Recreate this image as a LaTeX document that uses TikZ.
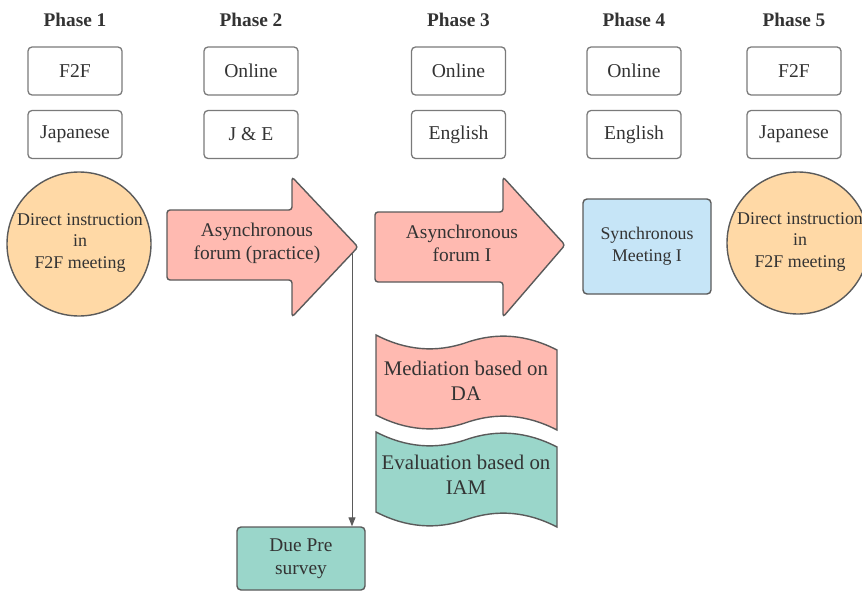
\documentclass[tikz,border=0pt]{standalone}
\usepackage{fontspec}
\setmainfont{Liberation Serif}
\usetikzlibrary{arrows.meta}
\definecolor{peach}{HTML}{FFD9A6}
\definecolor{salmon}{HTML}{FFBAB1}
\definecolor{skyb}{HTML}{C6E5F7}
\definecolor{teal2}{HTML}{9AD6CA}
\definecolor{edge}{HTML}{5A5A5A}
\definecolor{boxedge}{HTML}{7A7A7A}
\definecolor{txt}{HTML}{333333}
\tikzset{
  phaselbl/.style={font=\fontsize{19.3}{22}\selectfont\bfseries, text=txt},
  tagbox/.style={draw=boxedge, line width=1.3pt, rounded corners=4pt, minimum width=94pt, minimum height=48pt, font=\fontsize{19.6}{22}\selectfont, text=txt},
  shapeedge/.style={draw=edge, line width=1.4pt},
  body/.style={align=center, text=txt, font=\fontsize{19.4}{23}\selectfont},
  conn/.style={draw=edge, line width=1pt, -{Triangle[length=9pt,width=7pt]}}
}
\begin{document}
\begin{tikzpicture}[x=1pt,y=-1pt]
\useasboundingbox (0,0) rectangle (862,591);
% phase labels
\node[phaselbl] (p1) at (75,20) {Phase 1};
\node[phaselbl] (p2) at (251,20) {Phase 2};
\node[phaselbl] (p3) at (458.5,20) {Phase 3};
\node[phaselbl] (p4) at (634,20) {Phase 4};
\node[phaselbl] (p5) at (794,20) {Phase 5};
% tag boxes
\node[tagbox] (m1) at (75,71) {F2F};
\node[tagbox] (m2) at (251,71) {Online};
\node[tagbox] (m3) at (458.5,71) {Online};
\node[tagbox] (m4) at (634,71) {Online};
\node[tagbox] (m5) at (794,71) {F2F};
\node[tagbox] (l1) at (75,134.5) {Japanese};
\node[tagbox] (l2) at (251,134.5) {J \& E};
\node[tagbox] (l3) at (458.5,134.5) {English};
\node[tagbox] (l4) at (634,134.5) {English};
\node[tagbox] (l5) at (794,134.5) {Japanese};
% circles
\node[circle, shapeedge, fill=peach, minimum size=144pt, inner sep=0pt] (c1) at (79,244) {};
\node[body, font=\fontsize{17.9}{21.5}\selectfont] (c1t) at (80,243) {Direct instruction\\in\\F2F meeting};
\node[circle, shapeedge, fill=peach, minimum size=142pt, inner sep=0pt] (c5) at (798,243) {};
\node[body, font=\fontsize{17.9}{21.5}\selectfont] (c5t) at (800,242) {Direct instruction\\in\\F2F meeting};
% arrow 1
\draw[shapeedge, fill=salmon, rounded corners=3pt] (167,210) -- (292,210) -- (292,177) -- (358,247) -- (292,317) -- (292,280) -- (167,280) -- cycle;
\node[body] (a1) at (257,243) {Asynchronous\\forum (practice)};
% arrow 2
\draw[shapeedge, fill=salmon, rounded corners=3pt] (375,212) -- (503,212) -- (503,177) -- (565,245) -- (503,317) -- (503,282) -- (375,282) -- cycle;
\node[body] (a2) at (462,243) {Asynchronous\\forum I};
% synchronous meeting
\node[shapeedge, fill=skyb, rounded corners=4pt, minimum width=128pt, minimum height=95pt, body, font=\fontsize{17.8}{22}\selectfont] (sm) at (647,246.5) {Synchronous\\Meeting I};
% tapes
\begin{scope}[shift={(376,335)}]
\draw[shapeedge, fill=salmon] (0,0) .. controls (30,15.5) and (60,18) .. (90.5,7.5) .. controls (121,-3) and (151,-0.5) .. (181,15) -- (181,95) .. controls (151,79.5) and (121,77) .. (90.5,87.5) .. controls (60,98) and (30,95.5) .. (0,80) -- cycle;
\end{scope}
\node[body, font=\fontsize{20.8}{25}\selectfont] (med) at (466,381) {Mediation based on\\DA};
\begin{scope}[shift={(376,432)}]
\draw[shapeedge, fill=teal2] (0,0) .. controls (30,15.5) and (60,18) .. (90.5,7.5) .. controls (121,-3) and (151,-0.5) .. (181,15) -- (181,95) .. controls (151,79.5) and (121,77) .. (90.5,87.5) .. controls (60,98) and (30,95.5) .. (0,80) -- cycle;
\end{scope}
\node[body, font=\fontsize{20.8}{25}\selectfont] (eva) at (466,475) {Evaluation based on\\IAM};
% due pre survey
\node[shapeedge, fill=teal2, rounded corners=4pt, minimum width=128pt, minimum height=63pt, body] (due) at (301,558.5) {Due Pre\\survey};
% connector
\coordinate (a1out) at (352,253);
\draw[conn] (a1out) -- (a1out |- due.north);
\end{tikzpicture}
\end{document}
